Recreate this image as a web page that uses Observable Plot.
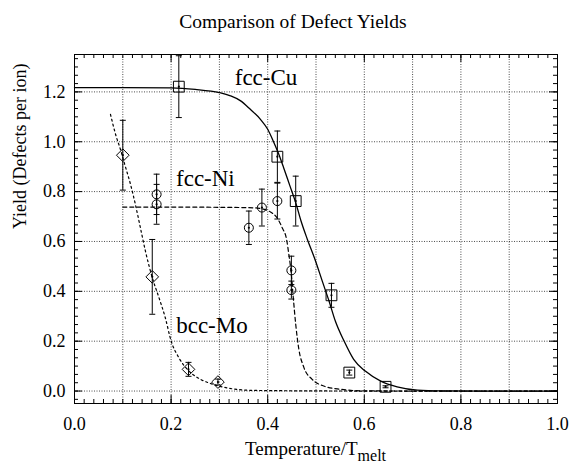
<!DOCTYPE html>
<html><head><meta charset="utf-8">
<script src="https://cdn.jsdelivr.net/npm/d3@7"></script>
<script src="https://cdn.jsdelivr.net/npm/@observablehq/plot@0.6"></script>
<style>
body{margin:0;background:#fff}
svg{display:block}
svg text, svg tspan{font-family:"Liberation Serif","DejaVu Serif","Times New Roman",serif !important;}
</style>
</head><body><div id="chart"></div>
<script>
// ---- text ----
const titleText = "Comparison of Defect Yields";
const xLabelMain = "Temperature/T";
const xLabelSub = "melt";
const yLabelText = "Yield (Defects per ion)";
const xTickLabels = [0.0, 0.2, 0.4, 0.6, 0.8, 1.0];
const yTickLabels = [0.0, 0.2, 0.4, 0.6, 0.8, 1.0, 1.2];

// ---- series labels (data coordinates) ----
const seriesNames = ["fcc-Cu", "fcc-Ni", "bcc-Mo"];
const seriesLabelX = [0.3965, 0.271, 0.2846];
const seriesLabelY = [1.256, 0.852, 0.264];

// ---- measured points ----
const cuX = [0.216, 0.420, 0.458, 0.532, 0.569, 0.644];
const cuY = [1.221, 0.940, 0.762, 0.384, 0.074, 0.017];
const cuErr = [0.124, 0.103, 0.100, 0.048, 0.010, 0.004];

const niX = [0.170, 0.170, 0.361, 0.388, 0.420, 0.449, 0.449];
const niY = [0.789, 0.749, 0.655, 0.736, 0.762, 0.484, 0.405];
const niErr = [0.081, 0.080, 0.067, 0.074, 0.072, 0.057, 0.036];

const moX = [0.100, 0.161, 0.236, 0.297];
const moY = [0.946, 0.458, 0.087, 0.036];
const moErr = [0.140, 0.150, 0.028, 0.012];

// ---- fitted curves ----
const cuCurveX = [0, 0.1, 0.2, 0.25, 0.30, 0.323, 0.344, 0.364, 0.385, 0.400, 0.413, 0.423, 0.433, 0.446, 0.458, 0.469, 0.482, 0.499, 0.513, 0.527, 0.540, 0.558, 0.578, 0.602, 0.634, 0.668, 0.710, 0.760, 0.850, 1.0];
const cuCurveY = [1.217, 1.217, 1.216, 1.210, 1.197, 1.184, 1.164, 1.130, 1.090, 1.050, 0.996, 0.950, 0.896, 0.823, 0.756, 0.682, 0.609, 0.522, 0.441, 0.361, 0.281, 0.201, 0.127, 0.080, 0.040, 0.017, 0.004, 0.001, 0.0, 0.0];

const niCurveX = [0.10, 0.20, 0.30, 0.37, 0.39, 0.406, 0.420, 0.430, 0.439, 0.444, 0.449, 0.453, 0.458, 0.464, 0.475, 0.492, 0.516, 0.551, 0.592, 0.70, 0.80, 0.90, 1.0];
const niCurveY = [0.738, 0.738, 0.737, 0.735, 0.730, 0.718, 0.693, 0.655, 0.609, 0.545, 0.468, 0.374, 0.268, 0.174, 0.094, 0.047, 0.020, 0.007, 0.001, 0.0, 0.0, 0.0, 0.0];

const moCurveX = [0.0745, 0.085, 0.095, 0.106, 0.116, 0.126, 0.137, 0.147, 0.161, 0.175, 0.188, 0.200, 0.216, 0.237, 0.261, 0.292, 0.330, 0.364, 0.45, 0.60, 0.80, 1.0];
const moCurveY = [1.110, 1.030, 0.970, 0.896, 0.829, 0.749, 0.650, 0.560, 0.455, 0.374, 0.294, 0.201, 0.134, 0.080, 0.047, 0.024, 0.008, 0.003, 0.001, 0.0, 0.0, 0.0];

// ---- build tables ----
const pts = (xs, ys, es) => xs.map((x, i) => ({x, y: ys[i], lo: ys[i] - es[i], hi: ys[i] + es[i]}));
const cuPts = pts(cuX, cuY, cuErr), niPts = pts(niX, niY, niErr), moPts = pts(moX, moY, moErr);
const allPts = [...cuPts, ...niPts, ...moPts];
const curve = (xs, ys) => xs.map((x, i) => ({x, y: ys[i]}));
const labels = seriesNames.map((t, i) => ({t, x: seriesLabelX[i], y: seriesLabelY[i]}));

const W = 571, H = 466, mL = 74, mR = 14, mT = 54, mB = 63;
const innerH = H - mT - mB, innerW = W - mL - mR;
const font = "'Liberation Serif', 'DejaVu Serif', serif";

const xMinor = d3.range(0, 51).map(i => i * 0.02);
const xMajor = xTickLabels;
const yMinor = d3.range(-1, 41).map(i => i * 0.2 / 6);
const yMajor = yTickLabels;
const xGrid = d3.range(1, 10).map(i => i / 10);

const capSymbol = {draw(ctx) { ctx.moveTo(-3, 0); ctx.lineTo(3, 0); }};
const gridStyle = {stroke: "#000", strokeOpacity: 0.7, strokeDasharray: "1,1.5"};

const plot = Plot.plot({
  width: W, height: H,
  marginLeft: mL, marginRight: mR, marginTop: mT, marginBottom: mB,
  x: {domain: [0, 1]},
  y: {domain: [-0.05, 1.35]},
  style: {fontFamily: font, fontSize: "18px", color: "#000", background: "#fff"},
  marks: [
    // grid
    Plot.ruleX(xGrid, {x: d => d, ...gridStyle}),
    Plot.ruleY(yMajor, {y: d => d, ...gridStyle}),
    // ticks (inward, all four sides)
    Plot.ruleX(xMinor, {x: d => d, insetTop: innerH - 4, stroke: "#000"}),
    Plot.ruleX(xMinor, {x: d => d, insetBottom: innerH - 4, stroke: "#000"}),
    Plot.ruleX(xMajor, {x: d => d, insetTop: innerH - 8, stroke: "#000"}),
    Plot.ruleX(xMajor, {x: d => d, insetBottom: innerH - 8, stroke: "#000"}),
    Plot.ruleY(yMinor, {y: d => d, insetRight: innerW - 4, stroke: "#000"}),
    Plot.ruleY(yMinor, {y: d => d, insetLeft: innerW - 4, stroke: "#000"}),
    Plot.ruleY(yMajor, {y: d => d, insetRight: innerW - 8, stroke: "#000"}),
    Plot.ruleY(yMajor, {y: d => d, insetLeft: innerW - 8, stroke: "#000"}),
    Plot.frame({stroke: "#000"}),
    // axes labels
    Plot.axisX({ticks: xTickLabels, tickSize: 0, tickPadding: 14, tickFormat: d3.format(".1f"), fontSize: 18, label: null}),
    Plot.axisY({ticks: yTickLabels, tickSize: 0, tickPadding: 9, tickFormat: d3.format(".1f"), fontSize: 18, label: null}),
    // curves
    Plot.line(curve(cuCurveX, cuCurveY), {x: "x", y: "y", stroke: "#000", strokeWidth: 1.3, curve: "monotone-x"}),
    Plot.line(curve(niCurveX, niCurveY), {x: "x", y: "y", stroke: "#000", strokeWidth: 1.2, strokeDasharray: "4,3", curve: "monotone-x"}),
    Plot.line(curve(moCurveX, moCurveY), {x: "x", y: "y", stroke: "#000", strokeWidth: 1.2, strokeDasharray: "2,3", curve: "monotone-x"}),
    // error bars
    Plot.ruleX(allPts, {x: "x", y1: "lo", y2: "hi", stroke: "#000", strokeWidth: 1}),
    Plot.dot(allPts, {x: "x", y: "lo", symbol: capSymbol, stroke: "#000", fill: "none", strokeWidth: 1}),
    Plot.dot(allPts, {x: "x", y: "hi", symbol: capSymbol, stroke: "#000", fill: "none", strokeWidth: 1}),
    // markers
    Plot.dot(cuPts, {x: "x", y: "y", symbol: "square", r: 6.1, stroke: "#000", fill: "none", strokeWidth: 1}),
    Plot.dot(niPts, {x: "x", y: "y", symbol: "circle", r: 4.5, stroke: "#000", fill: "none", strokeWidth: 1}),
    Plot.dot(moPts, {x: "x", y: "y", symbol: "diamond2", r: 5.7, stroke: "#000", fill: "none", strokeWidth: 1}),
    Plot.dot(allPts, {x: "x", y: "y", r: 1.1, fill: "#000", stroke: null}),
    // series labels
    Plot.text(labels, {x: "x", y: "y", text: "t", fontSize: 23, fill: "#000"}),
    // y axis title
    Plot.text([yLabelText], {text: d => d, frameAnchor: "left", dx: -54, rotate: -90, fontSize: 18, fill: "#000"})
  ]
});

const svg = d3.select(plot);
svg.append("text")
  .attr("x", 293).attr("y", 28)
  .attr("text-anchor", "middle")
  .attr("font-size", 19.5).attr("fill", "#000")
  .text(titleText);
const xl = svg.append("text")
  .attr("x", mL + innerW / 2).attr("y", 455)
  .attr("text-anchor", "middle")
  .attr("font-size", 19).attr("fill", "#000");
xl.append("tspan").text(xLabelMain);
xl.append("tspan").attr("font-size", 16).attr("dy", 6).text(xLabelSub);

document.getElementById("chart").appendChild(plot);
</script>
</body></html>
